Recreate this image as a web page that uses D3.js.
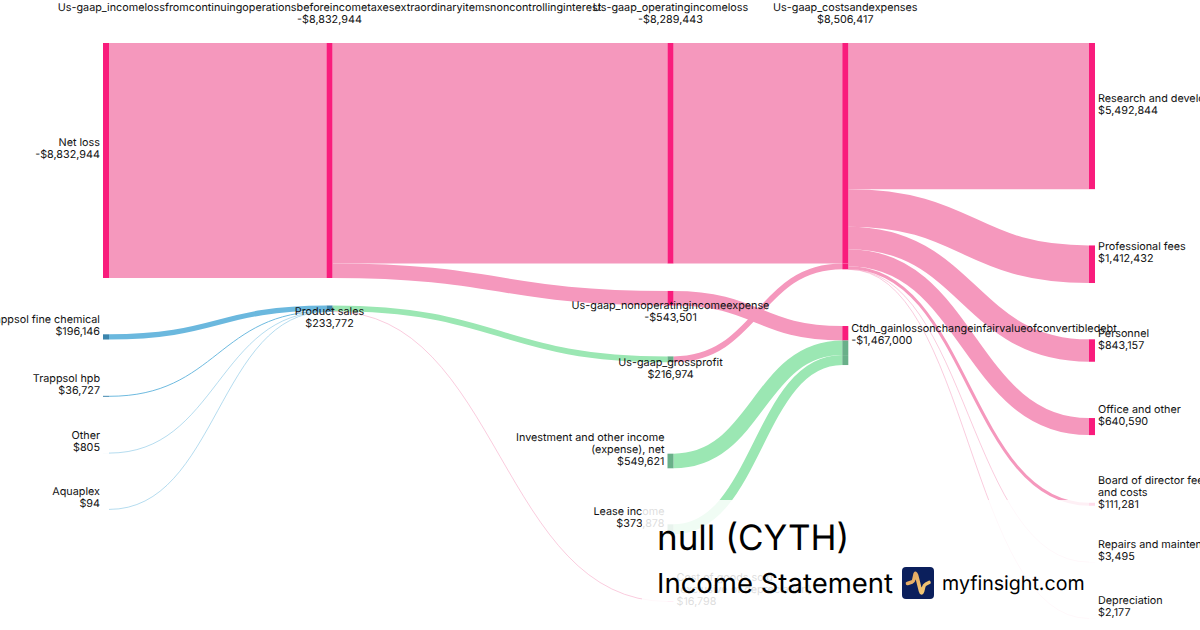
<!DOCTYPE html>
<html>
<head>
<meta charset="utf-8">
<script src="https://cdn.jsdelivr.net/npm/d3@7"></script>
<style>
    html, body { margin: 0; padding: 0; background: #fff; }
    svg { display: block; font-family: Inter, sans-serif; text-rendering: geometricPrecision; }
</style>
</head>
<body>
<div id="sankey"></div>
<script>
// Data
const nodeNames = [
    "Net loss", "Trappsol fine chemical", "Trappsol hpb", "Other", "Aquaplex",
    "Us-gaap_incomelossfromcontinuingoperationsbeforeincometaxesextraordinaryitemsnoncontrollinginterest", "Product sales",
    "Us-gaap_operatingincomeloss", "Us-gaap_nonoperatingincomeexpense", "Us-gaap_grossprofit",
    "Investment and other income (expense), net", "Lease income", "Cost of goods sold (exclusive of depreciation)",
    "Us-gaap_costsandexpenses", "Ctdh_gainlossonchangeinfairvalueofconvertibledebt",
    "Research and development", "Professional fees", "Personnel", "Office and other",
    "Board of director fees and costs", "Repairs and maintenance", "Depreciation"
];
const nodeValues = [
    -8832944, 196146, 36727, 805, 94,
    -8832944, 233772,
    -8289443, -543501, 216974, 549621, 373878, 16798,
    8506417, -1467000,
    5492844, 1412432, 843157, 640590, 111281, 3495, 2177
];
const nodeColumns = [0, 0, 0, 0, 0, 1, 1, 2, 2, 2, 2, 2, 2, 3, 3, 4, 4, 4, 4, 4, 4, 4];

const linkSources = [
    "Net loss",
    "Us-gaap_incomelossfromcontinuingoperationsbeforeincometaxesextraordinaryitemsnoncontrollinginterest",
    "Us-gaap_incomelossfromcontinuingoperationsbeforeincometaxesextraordinaryitemsnoncontrollinginterest",
    "Trappsol fine chemical", "Trappsol hpb", "Other", "Aquaplex",
    "Product sales", "Product sales",
    "Us-gaap_operatingincomeloss", "Us-gaap_grossprofit",
    "Us-gaap_nonoperatingincomeexpense", "Investment and other income (expense), net", "Lease income",
    "Us-gaap_costsandexpenses", "Us-gaap_costsandexpenses", "Us-gaap_costsandexpenses", "Us-gaap_costsandexpenses",
    "Us-gaap_costsandexpenses", "Us-gaap_costsandexpenses", "Us-gaap_costsandexpenses"
];
const linkTargets = [
    "Us-gaap_incomelossfromcontinuingoperationsbeforeincometaxesextraordinaryitemsnoncontrollinginterest",
    "Us-gaap_operatingincomeloss", "Us-gaap_nonoperatingincomeexpense",
    "Product sales", "Product sales", "Product sales", "Product sales",
    "Us-gaap_grossprofit", "Cost of goods sold (exclusive of depreciation)",
    "Us-gaap_costsandexpenses", "Us-gaap_costsandexpenses",
    "Ctdh_gainlossonchangeinfairvalueofconvertibledebt", "Ctdh_gainlossonchangeinfairvalueofconvertibledebt", "Ctdh_gainlossonchangeinfairvalueofconvertibledebt",
    "Research and development", "Professional fees", "Personnel", "Office and other",
    "Board of director fees and costs", "Repairs and maintenance", "Depreciation"
];
const linkValues = [
    8832944, 8289443, 543501,
    196146, 36727, 805, 94,
    216974, 16798,
    8289443, 216974,
    543501, 549621, 373878,
    5492844, 1412432, 843157, 640590, 111281, 3495, 2177
];
const linkKinds = [
    "loss", "loss", "loss",
    "segment", "segment", "segment", "segment",
    "gain", "loss",
    "loss", "loss",
    "loss", "gain", "gain",
    "loss", "loss", "loss", "loss", "loss", "loss", "loss"
];

// Layout settings
const width = 1200, height = 630;
const nodeWidth = 6;
const topY = 43;
const defaultGap = 56.3;
const columnX = d3.scaleOrdinal().domain([0, 1, 2, 3, 4]).range([103, 326.5, 667.5, 842.3, 1089]);
const heightScale = d3.scaleLinear().domain([0, 8832944]).range([0, 235]);
const linkColor = d3.scaleOrdinal().domain(["loss", "gain", "segment"]).range(["#f598bd", "#9be7b3", "#6bb8de"]);
const nodeColor = d3.scaleOrdinal().domain(["loss", "gain", "segment"]).range(["#f91c7c", "#69b089", "#3c85ad"]);

// nodes that don't sit the default distance below the one above them
const gapAbove = {
    "Product sales": 27.5,
    "Us-gaap_nonoperatingincomeexpense": 27.4,
    "Us-gaap_grossprofit": 51,
    "Investment and other income (expense), net": 91.5,
    "Lease income": 56,
    "Cost of goods sold (exclusive of depreciation)": 67,
    "Ctdh_gainlossonchangeinfairvalueofconvertibledebt": 56.7,
    "Board of director fees and costs": 67.7
};
// where each label goes, everything else sits to the left or right by column
const labelSide = {
    "Us-gaap_incomelossfromcontinuingoperationsbeforeincometaxesextraordinaryitemsnoncontrollinginterest": "above",
    "Us-gaap_operatingincomeloss": "above",
    "Us-gaap_costsandexpenses": "above",
    "Product sales": "below",
    "Us-gaap_nonoperatingincomeexpense": "below",
    "Us-gaap_grossprofit": "below",
    "Investment and other income (expense), net": "left",
    "Lease income": "left",
    "Cost of goods sold (exclusive of depreciation)": "right",
    "Ctdh_gainlossonchangeinfairvalueofconvertibledebt": "right"
};
// manual line breaks for the wrapped labels
const labelLines = {
    "Investment and other income (expense), net": ["Investment and other income", "(expense), net"],
    "Cost of goods sold (exclusive of depreciation)": ["Cost of goods sold", "(exclusive of depreciation)"],
    "Board of director fees and costs": ["Board of director fees", "and costs"]
};

// Build the graph
const nodes = nodeNames.map((name, i) => ({
    name: name, value: nodeValues[i], column: nodeColumns[i], inLinks: [], outLinks: []
}));
const nodeByName = new Map(nodes.map(n => [n.name, n]));
const links = linkValues.map((value, i) => ({
    source: nodeByName.get(linkSources[i]),
    target: nodeByName.get(linkTargets[i]),
    value: value,
    kind: linkKinds[i]
}));
links.forEach(l => {
    l.source.outLinks.push(l);
    l.target.inLinks.push(l);
});

// Stack the nodes in each column
d3.groups(nodes, n => n.column).forEach(([column, group]) => {
    let y = topY;
    group.forEach((n, i) => {
        if (i > 0) y += gapAbove[n.name] ?? defaultGap;
        n.x0 = columnX(column);
        n.x1 = n.x0 + nodeWidth;
        n.y0 = y;
        n.y1 = y + heightScale(Math.abs(n.value));
        y = n.y1;
    });
});

// Stack the links on each node
nodes.forEach(n => {
    let y = n.y0;
    n.outLinks.forEach(l => {
        l.width = heightScale(l.value);
        l.y0 = y + l.width / 2;
        y += l.width;
    });
    y = n.y0;
    n.inLinks.forEach(l => {
        l.width = heightScale(l.value);
        l.y1 = y + l.width / 2;
        y += l.width;
    });
});

const svg = d3.select("#sankey").append("svg")
    .attr("width", width)
    .attr("height", height)
    .attr("viewBox", "0 0 " + width + " " + height);

const linkPath = d3.linkHorizontal()
    .source(l => [l.source.x1, l.y0])
    .target(l => [l.target.x0, l.y1]);

//Add the links, the very small ones still get a hairline
svg.append("g")
    .attr("fill", "none")
    .selectAll("path")
    .data(links)
    .enter()
    .append("path")
    .attr("d", linkPath)
    .attr("stroke", l => linkColor(l.kind))
    .attr("stroke-width", l => Math.max(l.width, 0.5));

//Nodes are painted one piece per link, incoming links first
const nodePieces = nodes.flatMap(n => {
    const side = n.inLinks.length ? n.inLinks : n.outLinks;
    let y = n.y0;
    return side.map(l => {
        const piece = { x: n.x0, y: y, height: l.width, kind: l.kind };
        y += l.width;
        return piece;
    });
});
svg.append("g")
    .selectAll("rect")
    .data(nodePieces)
    .enter()
    .append("rect")
    .attr("x", d => d.x)
    .attr("y", d => d.y)
    .attr("width", nodeWidth)
    .attr("height", d => d.height)
    .attr("fill", d => nodeColor(d.kind));

//Labels
const formatMoney = v => (v < 0 ? "-$" : "$") + d3.format(",")(Math.abs(v));
const lineHeight = 12;

const labels = svg.append("g")
    .attr("font-size", 10.8)
    .attr("fill", "#111");

nodes.forEach(n => {
    const lines = (labelLines[n.name] ?? [n.name]).concat(formatMoney(n.value));
    const side = labelSide[n.name] ?? (n.column === 0 ? "left" : "right");
    const middle = (n.y0 + n.y1) / 2;
    let x, anchor, firstLine;
    if (side === "above") {
        x = (n.x0 + n.x1) / 2;
        anchor = "middle";
        firstLine = n.y0 - 35.5;
    } else if (side === "below") {
        x = (n.x0 + n.x1) / 2;
        anchor = "middle";
        firstLine = n.y1 - 0.6;
    } else {
        x = side === "left" ? n.x0 - 3 : n.x1 + 3;
        anchor = side === "left" ? "end" : "start";
        firstLine = middle - 12 - (lines.length - 1) * lineHeight / 2;
    }
    const text = labels.append("text")
        .attr("text-anchor", anchor);
    lines.forEach((line, i) => {
        text.append("tspan")
            .attr("x", x)
            .attr("y", firstLine + i * lineHeight)
            .attr("dy", "0.37em")
            .text(line);
    });
});

//White panel behind the title, lets the chart show through a little
svg.append("rect")
    .attr("x", 642)
    .attr("y", 500)
    .attr("width", 456)
    .attr("height", 130)
    .attr("fill", "#fff")
    .attr("fill-opacity", 0.85);

svg.append("text")
    .attr("x", 657)
    .attr("y", 550)
    .attr("font-size", 35)
    .attr("fill", "#000")
    .text("null (CYTH)");

svg.append("text")
    .attr("x", 657)
    .attr("y", 593)
    .attr("font-size", 27.5)
    .attr("fill", "#000")
    .text("Income Statement");

const gradient = svg.append("defs").append("linearGradient")
    .attr("id", "pulse")
    .attr("x1", 0).attr("y1", 0).attr("x2", 1).attr("y2", 1);
gradient.append("stop").attr("offset", "0%").attr("stop-color", "#e2a25f");
gradient.append("stop").attr("offset", "100%").attr("stop-color", "#f6cf78");

const logo = svg.append("g").attr("transform", "translate(902,567)");
logo.append("rect")
    .attr("width", 32)
    .attr("height", 32)
    .attr("rx", 4)
    .attr("fill", "#0b1f5c");
logo.append("path")
    .attr("d", "M5.5 16.5 L10 15 Q11.5 14.5 12 12 L13 7.5 Q13.5 5 14.5 8 L18.5 24 Q19.5 27.5 20.5 24.5 L21.5 20.5 Q22 18 24 17 L27 15.5")
    .attr("fill", "none")
    .attr("stroke", "url(#pulse)")
    .attr("stroke-width", 3.6)
    .attr("stroke-linecap", "round")
    .attr("stroke-linejoin", "round");

svg.append("text")
    .attr("x", 942)
    .attr("y", 590)
    .attr("font-size", 19.6)
    .attr("fill", "#000")
    .text("myfinsight.com");
</script>
</body>
</html>
